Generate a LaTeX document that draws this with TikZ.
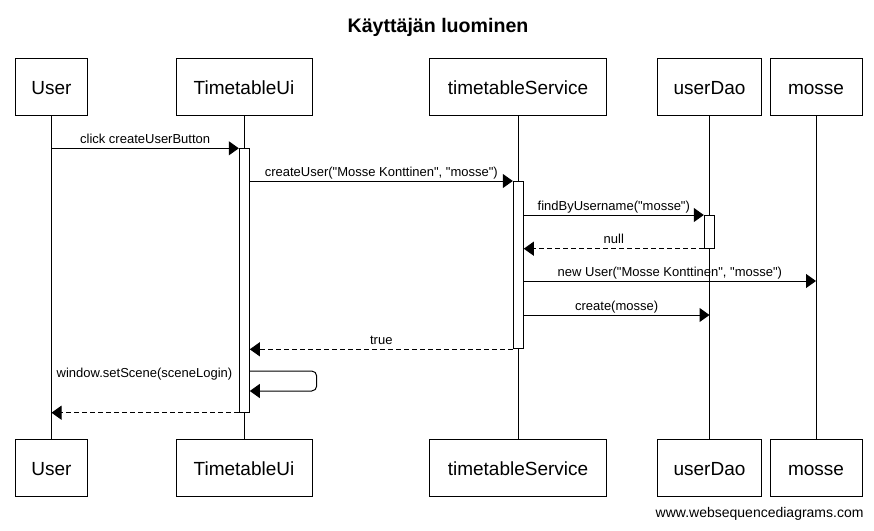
\documentclass[tikz,border=0pt]{standalone}
\usepackage{fontspec}
\setmainfont{Liberation Sans}[Ligatures=TeXOff]
\usetikzlibrary{arrows.meta}
\begin{document}
\begin{tikzpicture}[x=1pt,y=-1pt,line width=1pt,
  pbox/.style={draw,fill=white,minimum height=57pt,inner sep=0pt,text height=20pt,text depth=4pt,font=\fontsize{19}{22}\selectfont},
  act/.style={draw,fill=white,minimum width=10pt,inner sep=0pt,anchor=north},
  msg/.style={-{Triangle[length=10pt,width=14pt]}},
  ret/.style={msg,dash pattern=on 5pt off 3pt},
  lbl/.style={font=\fontsize{13}{15}\selectfont,anchor=base,inner sep=0pt}]
\useasboundingbox (0,0) rectangle (874,530);
% title
\node[font=\bfseries\fontsize{19.6}{22}\selectfont,anchor=base] (title) at (438,32) {Käyttäjän luominen};
% participants
\node[pbox,minimum width=72pt]  (uT) at (51.5,86.5) {User};
\node[pbox,minimum width=136pt] (iT) at (244,86.5) {TimetableUi};
\node[pbox,minimum width=177pt] (sT) at (518,86.5) {timetableService};
\node[pbox,minimum width=104pt] (dT) at (709.5,86.5) {userDao};
\node[pbox,minimum width=92pt]  (mT) at (816,86.5) {mosse};
\node[pbox,minimum width=72pt]  (uB) at (51.5,467.7) {User};
\node[pbox,minimum width=136pt] (iB) at (244,467.7) {TimetableUi};
\node[pbox,minimum width=177pt] (sB) at (518,467.7) {timetableService};
\node[pbox,minimum width=104pt] (dB) at (709.5,467.7) {userDao};
\node[pbox,minimum width=92pt]  (mB) at (816,467.7) {mosse};
% lifelines
\draw (uT.south) -- (uB.north);
\draw (iT.south) -- (iB.north);
\draw (sT.south) -- (sB.north);
\draw (dT.south) -- (dB.north);
\draw (mT.south) -- (mB.north);
% activations
\node[act,minimum height=263.4pt] (aUi) at (244.3,148.3) {};
\node[act,minimum height=167.3pt] (aSvc) at (518.3,181) {};
\node[act,minimum height=32.7pt] (aDao) at (709.3,215) {};
% messages
\draw[msg] (uT.south |- aUi.north) -- (aUi.north west)
  node[lbl,midway,yshift=5pt] {click createUserButton};
\draw[msg] (aUi.east |- aSvc.north) -- (aSvc.north west)
  node[lbl,midway,yshift=5pt] {createUser("Mosse Konttinen", "mosse")};
\draw[msg] (aSvc.east |- aDao.north) -- (aDao.north west)
  node[lbl,midway,yshift=5pt] {findByUsername("mosse")};
\draw[ret] (aDao.south west) -- (aSvc.east |- aDao.south)
  node[lbl,midway,yshift=5pt] {null};
\coordinate (m5) at (0,281);
\draw[msg] (aSvc.east |- m5) -- (mT.south |- m5)
  node[lbl,midway,yshift=5pt] {new User("Mosse Konttinen", "mosse")};
\coordinate (m6) at (0,315);
\draw[msg] (aSvc.east |- m6) -- (dT.south |- m6)
  node[lbl,midway,yshift=5pt] {create(mosse)};
\draw[ret] (aSvc.south west) -- (aUi.east |- aSvc.south)
  node[lbl,midway,yshift=5pt] {true};
\coordinate (s1) at (316.7,371);
\coordinate (s2) at (316.7,391);
\draw[msg,rounded corners=5pt] (aUi.east |- s1) -- (s1) -- (s2) -- (aUi.east |- s2);
\node[lbl,anchor=base east] (selfl) at ([xshift=-6pt,yshift=-6pt]aUi.west |- s1) {window.setScene(sceneLogin)};
\draw[ret] (aUi.south west) -- (uT.south |- aUi.south);
% footer
\node[font=\fontsize{14}{16}\selectfont,anchor=base east,inner sep=0pt] (foot) at (864,517) {www.websequencediagrams.com};
\end{tikzpicture}
\end{document}
